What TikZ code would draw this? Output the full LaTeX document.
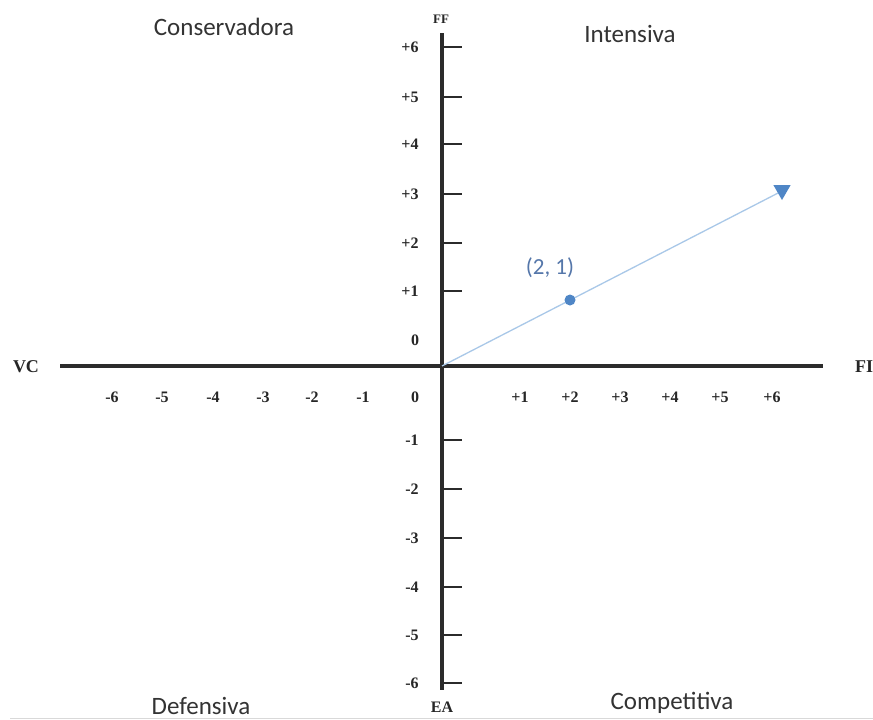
\documentclass[tikz,border=0pt]{standalone}
\usepackage{fontspec}
\setmainfont{Liberation Serif}
\newfontfamily\calfont{Carlito}
\usetikzlibrary{shapes.geometric}
\definecolor{axisgray}{HTML}{2B2B2B}
\definecolor{veclight}{HTML}{A9C8E8}
\definecolor{vecdark}{HTML}{4F86C6}
\definecolor{lblblue}{HTML}{5577AA}
\begin{document}
\begin{tikzpicture}[x=1pt,y=-1pt,
  axisline/.style={draw=axisgray,line width=3.2pt},
  tickmark/.style={draw=axisgray,line width=2.6pt},
  ticklbl/.style={font=\fontsize{16}{16}\selectfont\bfseries,text=black!85,inner sep=0pt},
  axlbl/.style={font=\fontsize{18}{18}\selectfont\bfseries,text=black!85,inner sep=0pt},
  quad/.style={font=\calfont\fontsize{25}{25}\selectfont,text=black!80,inner sep=0pt},
  vec/.style={draw=veclight,line width=1.3pt},
]
\useasboundingbox (0,0) rectangle (873,720);
\fill[white] (0,0) rectangle (873,720);
\draw[black!15,line width=1pt] (10,718.5) -- (873,718.5);

% axes
\coordinate (O) at (442,366);
\coordinate (Htop) at (442,33);
\coordinate (Hbot) at (442,690);
\coordinate (Lft) at (60,366);
\coordinate (Rgt) at (823,366);
\draw[axisline] (Lft) -- (Rgt);
\draw[axisline,line width=3.8pt] (Htop) -- (Hbot);

% ticks on vertical axis
\foreach \y in {47,97,144,194,243,291,440,489,538,587,635,683}{
  \draw[tickmark] (442,\y) -- (462,\y);
}

% vertical tick labels
\node[ticklbl] (v6) at (410,47) {+6};
\node[ticklbl] (v5) at (410,97) {+5};
\node[ticklbl] (v4) at (410,144) {+4};
\node[ticklbl] (v3) at (410,194) {+3};
\node[ticklbl] (v2) at (410,243) {+2};
\node[ticklbl] (v1) at (410,291) {+1};
\node[ticklbl] (v0) at (415,340) {0};
\node[ticklbl] (vm1) at (412,440) {-1};
\node[ticklbl] (vm2) at (412,489) {-2};
\node[ticklbl] (vm3) at (412,538) {-3};
\node[ticklbl] (vm4) at (412,587) {-4};
\node[ticklbl] (vm5) at (412,635) {-5};
\node[ticklbl] (vm6) at (412,683) {-6};

% horizontal tick labels
\node[ticklbl] (hm6) at (112,397) {-6};
\node[ticklbl] (hm5) at (162,397) {-5};
\node[ticklbl] (hm4) at (213,397) {-4};
\node[ticklbl] (hm3) at (263,397) {-3};
\node[ticklbl] (hm2) at (312,397) {-2};
\node[ticklbl] (hm1) at (363,397) {-1};
\node[ticklbl] (h0) at (415,397) {0};
\node[ticklbl] (h1) at (520,397) {+1};
\node[ticklbl] (h2) at (570,397) {+2};
\node[ticklbl] (h3) at (620,397) {+3};
\node[ticklbl] (h4) at (670,397) {+4};
\node[ticklbl] (h5) at (720,397) {+5};
\node[ticklbl] (h6) at (772,397) {+6};

% axis labels
\node[axlbl,font=\fontsize{13}{13}\selectfont\bfseries] (FF) at (441,19) {FF};
\node[axlbl] (VC) at (26,367) {VC};
\node[axlbl] (FI) at (864,367) {FI};
\node[axlbl,font=\fontsize{16}{16}\selectfont\bfseries] (EA) at (442,707) {EA};

% quadrant labels
\node[quad] (cons) at (224,27) {Conservadora};
\node[quad] (inte) at (630,34) {Intensiva};
\node[quad] (defe) at (201,706) {Defensiva};
\node[quad] (comp) at (672,703) {Competitiva};

% vector
\draw[vec] (O) -- (782,191);
\node[regular polygon,regular polygon sides=3,shape border rotate=180,
      fill=vecdark,inner sep=0pt,minimum size=20pt] (T) at (782,190) {};
\node[circle,fill=vecdark,inner sep=0pt,minimum size=11pt] (P) at (570,300) {};
\node[font=\calfont\fontsize{23}{23}\selectfont,text=lblblue,inner sep=0pt] (Plbl) at (550,268) {(2, 1)};
\end{tikzpicture}
\end{document}
